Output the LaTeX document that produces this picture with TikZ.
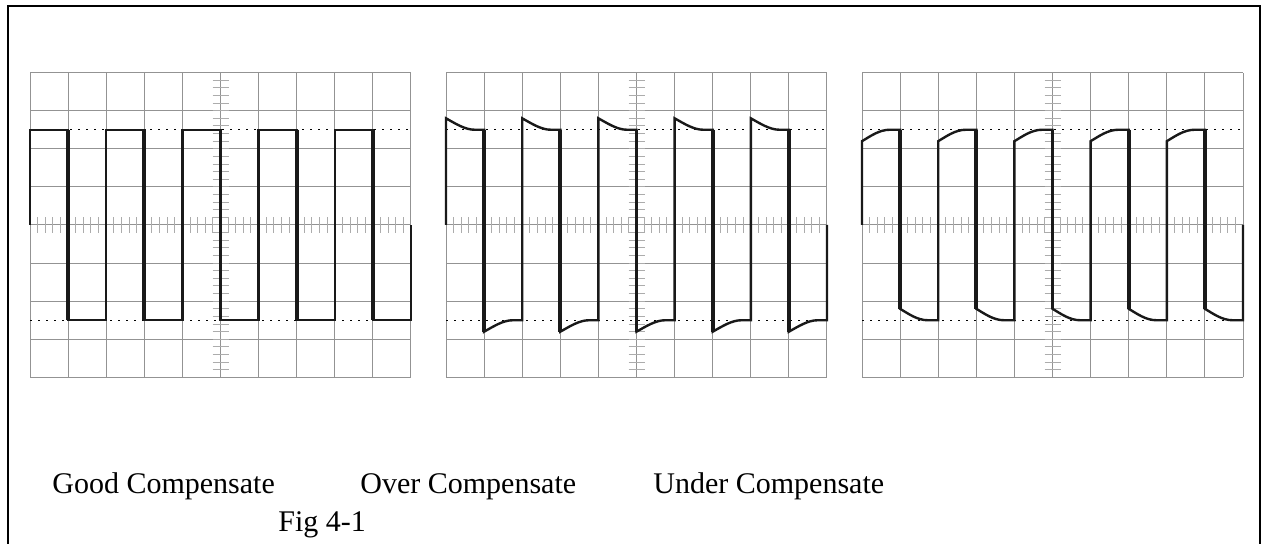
\documentclass[tikz,border=0pt]{standalone}
\usepackage{fontspec}
\setmainfont{Liberation Serif}

\begin{document}
\begin{tikzpicture}[x=0.5pt, y=-0.5pt,
    frameline/.style={black, line width=1pt},
    gridline/.style={gray!85, line width=0.5pt},
    tickline/.style={gray!65, line width=0.5pt},
    levelline/.style={black, line width=0.5pt, dash pattern=on 0.8pt off 3.2pt},
    wave/.style={black!90, line width=1.2pt, line join=miter},
    falledge/.style={black!90, line width=1.9pt},
    captiontext/.style={font=\fontsize{15}{18}\selectfont, inner sep=0pt, anchor=base west}]

    \useasboundingbox (0,0) rectangle (1262,544);
    \clip (0,0) rectangle (1262,544);

    \draw[frameline] (8,560) -- (8,6) -- (1259.5,6) -- (1259.5,560);

    % graticules
    \foreach \ox in {30,446,862}{
      \begin{scope}[shift={(\ox,225)}, x=19.05pt, y=19.05pt]
        \draw[gridline, step=1] (0,-4) grid (10,4);
        \foreach \t in {0.2,0.4,...,9.9} \draw[tickline] (\t,-0.2) -- (\t,0.2);
        \foreach \t in {-3.8,-3.6,...,3.9} \draw[tickline] (4.79,\t) -- (5.21,\t);
        \draw[levelline] (0,2.5) -- (10,2.5) (0,-2.5) -- (10,-2.5);
      \end{scope}
    }

    % good compensate
    \begin{scope}[shift={(30,225)}, x=19.05pt, y=19.05pt]
      \draw[wave] (0,0) \foreach \k in {0,2,...,8}
        { -- (\k,2.5) -- (\k+1,2.5) -- (\k+1,-2.5) -- (\k+2,-2.5) } -- (10,0);
      \foreach \k in {1,3,...,9} \draw[falledge] (\k,2.5) -- (\k,-2.5);
    \end{scope}

    % over compensate
    \begin{scope}[shift={(446,225)}, x=19.05pt, y=19.05pt]
      \draw[wave] (0,0) \foreach \k in {0,2,...,8}
        { -- (\k,2.8) .. controls (\k+0.25,2.66) and (\k+0.5,2.5) .. (\k+0.75,2.5) -- (\k+1,2.5)
          -- (\k+1,-2.8) .. controls (\k+1.25,-2.66) and (\k+1.5,-2.5) .. (\k+1.75,-2.5) -- (\k+2,-2.5) } -- (10,0);
      \foreach \k in {1,3,...,9} \draw[falledge] (\k,2.5) -- (\k,-2.8);
    \end{scope}

    % under compensate
    \begin{scope}[shift={(862,225)}, x=19.05pt, y=19.05pt]
      \draw[wave] (0,0) \foreach \k in {0,2,...,8}
        { -- (\k,2.2) .. controls (\k+0.22,2.33) and (\k+0.45,2.5) .. (\k+0.73,2.5) -- (\k+1,2.5)
          -- (\k+1,-2.2) .. controls (\k+1.22,-2.33) and (\k+1.45,-2.5) .. (\k+1.73,-2.5) -- (\k+2,-2.5) } -- (10,0);
      \foreach \k in {1,3,...,9} \draw[falledge] (\k,2.5) -- (\k,-2.2);
    \end{scope}

    \node[captiontext] (good) at (52,494) {Good Compensate};
    \node[captiontext] (over) at (360,494) {Over Compensate};
    \node[captiontext] (under) at (653,494) {Under Compensate};
    \node[captiontext] (fig) at (278,531) {Fig 4-1};
\end{tikzpicture}
\end{document}
